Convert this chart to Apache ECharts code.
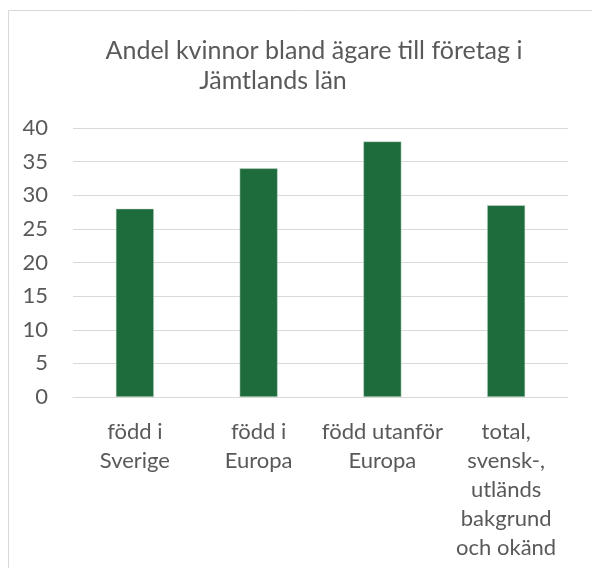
<!DOCTYPE html>
<html>
<head>
<meta charset="utf-8">
<script src="https://cdn.jsdelivr.net/npm/echarts@6/dist/echarts.min.js"></script>
<style>
  html, body { margin: 0; padding: 0; background: #fff; }
  #chart { width: 592px; height: 568px; }
</style>
</head>
<body>
<div id="chart"></div>
<script>
// data
const categories = ['född i\nSverige', 'född i\nEuropa', 'född utanför\nEuropa', 'total,\nsvensk-,\nutländs\nbakgrund\noch okänd'];
const shareWomen = [28, 34, 38, 28.5];
const titleLines = ['Andel kvinnor bland ägare till företag i', 'Jämtlands län'];

const textColor = '#595959';
const fontFamily = 'Lato, "Noto Sans", sans-serif';

const chart = echarts.init(document.getElementById('chart'));
chart.setOption({
  animation: false,
  title: [
    {
      text: titleLines[0],
      left: 309, top: 33,
      textAlign: 'center',
      textStyle: { color: textColor, fontFamily: fontFamily, fontSize: 25, fontWeight: 'normal' }
    },
    {
      text: titleLines[1],
      left: 268, top: 63,
      textAlign: 'center',
      textStyle: { color: textColor, fontFamily: fontFamily, fontSize: 25, fontWeight: 'normal' }
    }
  ],
  // outer frame of the chart area (left and top edges visible)
  graphic: [{
    type: 'rect',
    silent: true,
    shape: { x: 8.5, y: 10.5, width: 700, height: 700 },
    style: { fill: 'none', stroke: '#d9d9d9', lineWidth: 1 }
  }],
  grid: { left: 73, right: 24, top: 128, bottom: 171 },
  xAxis: {
    type: 'category',
    data: categories,
    axisTick: { show: false },
    axisLine: { lineStyle: { color: '#d9d9d9' } },
    axisLabel: {
      color: textColor, fontFamily: fontFamily, fontSize: 22,
      lineHeight: 29, margin: 20, interval: 0
    }
  },
  yAxis: {
    type: 'value',
    min: 0, max: 40, interval: 5,
    axisLabel: { color: textColor, fontFamily: fontFamily, fontSize: 22, margin: 25 },
    splitLine: { lineStyle: { color: '#d9d9d9' } }
  },
  series: [{
    type: 'bar',
    data: shareWomen,
    barWidth: 38,
    itemStyle: { color: '#1e6b3c', borderColor: '#cfe3d5', borderWidth: 0.5 }
  }]
});
</script>
</body>
</html>
